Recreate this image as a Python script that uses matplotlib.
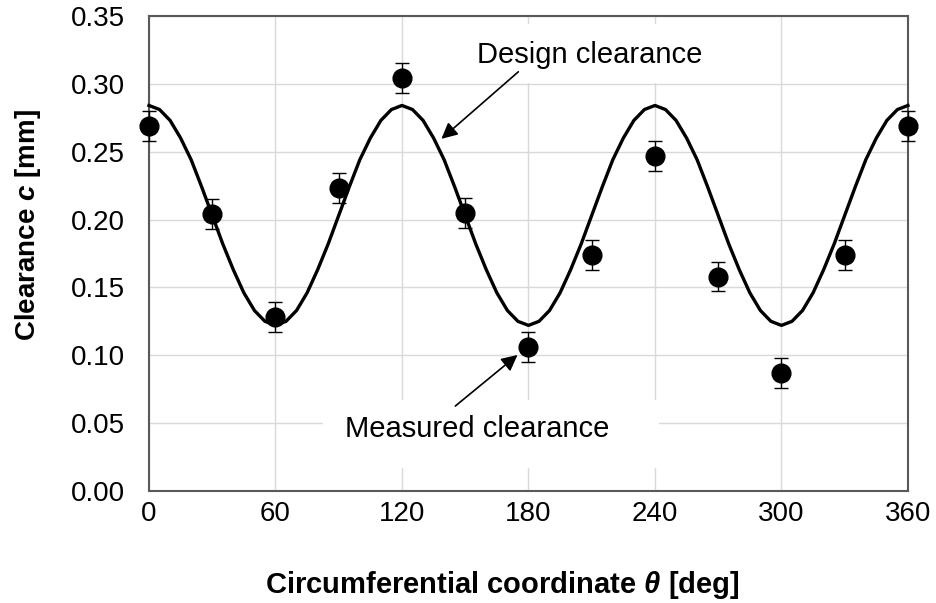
import matplotlib.pyplot as plt
from matplotlib.patches import Rectangle

plt.rcParams['font.family'] = ['Liberation Sans', 'DejaVu Sans']
plt.rcParams['mathtext.fontset'] = 'custom'
plt.rcParams['mathtext.it'] = 'Liberation Sans:italic:bold'
plt.rcParams['mathtext.bf'] = 'Liberation Sans:bold'

# design clearance, every 5 deg
theta_design = list(range(0, 361, 5))
c_design = [0.284, 0.281, 0.273, 0.260, 0.244, 0.224, 0.203, 0.182, 0.163, 0.146, 0.133, 0.125,
            0.122, 0.125, 0.133, 0.146, 0.163, 0.182, 0.203, 0.224, 0.244, 0.260, 0.273, 0.281,
            0.284, 0.281, 0.273, 0.260, 0.244, 0.224, 0.203, 0.182, 0.163, 0.146, 0.133, 0.125,
            0.122, 0.125, 0.133, 0.146, 0.163, 0.182, 0.203, 0.224, 0.244, 0.260, 0.273, 0.281,
            0.284, 0.281, 0.273, 0.260, 0.244, 0.224, 0.203, 0.182, 0.163, 0.146, 0.133, 0.125,
            0.122, 0.125, 0.133, 0.146, 0.163, 0.182, 0.203, 0.224, 0.244, 0.260, 0.273, 0.281,
            0.284]

# measured clearance
theta_meas = [0, 30, 60, 90, 120, 150, 180, 210, 240, 270, 300, 330, 360]
c_meas = [0.269, 0.204, 0.128, 0.223, 0.304, 0.205, 0.106, 0.174, 0.247, 0.158, 0.087, 0.174, 0.269]
c_err = [0.011] * len(theta_meas)

xticks = [0, 60, 120, 180, 240, 300, 360]
yticks = [0.00, 0.05, 0.10, 0.15, 0.20, 0.25, 0.30, 0.35]

fig = plt.figure(figsize=(9.37, 6.03), dpi=100)
ax = fig.add_axes([0.159, 0.1857, 0.81, 0.788])

ax.set_xlim(0, 360)
ax.set_ylim(0, 0.35)
ax.set_xticks(xticks)
ax.set_yticks(yticks)
ax.set_yticklabels(['%.2f' % v for v in yticks])
ax.tick_params(axis='both', length=0, labelsize=20, colors='black')
ax.tick_params(axis='x', pad=7)
ax.tick_params(axis='y', pad=17)
ax.set_axisbelow(True)
ax.grid(True, color='#d9d9d9', lw=1.0)
for s in ax.spines.values():
    s.set_color('#595959')
    s.set_linewidth(1.5)

# white boxes behind the annotation texts
ax.add_patch(Rectangle((82.6, 0.017), 159.1, 0.050, facecolor='white', edgecolor='none', zorder=1))
ax.add_patch(Rectangle((145.3, 0.3008), 140.0, 0.043, facecolor='white', edgecolor='none', zorder=1))

ax.plot(theta_design, c_design, color='black', lw=2.4, zorder=3, clip_on=False)
ax.errorbar(theta_meas, c_meas, yerr=c_err, fmt='o', color='black', ms=13.5,
            ecolor='black', elinewidth=1.0, capsize=5, capthick=1.0, zorder=4, clip_on=False)

ax.text(155.5, 0.0398, 'Measured clearance', fontsize=21, ha='center', va='baseline', zorder=5)
ax.text(209.0, 0.3154, 'Design clearance', fontsize=21, ha='center', va='baseline', zorder=5)

ax.annotate('', xy=(174.8, 0.1002), xytext=(145.3, 0.0626),
            arrowprops=dict(arrowstyle='-|>', color='black', lw=1.2, mutation_scale=24,
                            shrinkA=0, shrinkB=0), zorder=5)
ax.annotate('', xy=(138.7, 0.2594), xytext=(175.2, 0.3088),
            arrowprops=dict(arrowstyle='-|>', color='black', lw=1.2, mutation_scale=24,
                            shrinkA=0, shrinkB=0), zorder=5)

ax.set_xlabel(r'Circumferential coordinate $\mathit{\theta}$ [deg]', fontsize=21, fontweight='bold')
ax.set_ylabel(r'Clearance $\mathit{c}$ [mm]', fontsize=20, fontweight='bold')
ax.xaxis.set_label_coords(0.466, -0.165)
ax.yaxis.set_label_coords(-0.139, 0.56)

fig.savefig('out.png', dpi=100)
